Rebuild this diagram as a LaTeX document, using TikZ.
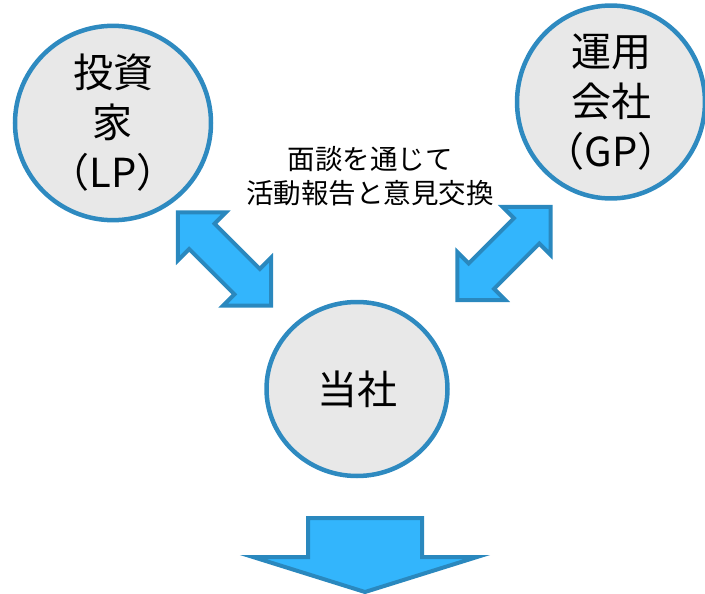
\documentclass[tikz,border=0pt]{standalone}
\usepackage{fontspec}
\setmainfont{Noto Sans CJK JP}
\usetikzlibrary{shapes.geometric}
\definecolor{circfill}{HTML}{E8E8E8}
\definecolor{circline}{HTML}{2E8AC0}
\definecolor{arrfill}{HTML}{33B5FC}
\definecolor{arrline}{HTML}{2A88BE}
\begin{document}
\begin{tikzpicture}[x=1pt,y=-1pt,
  party/.style={ellipse,draw=circline,fill=circfill,line width=4.5pt,inner sep=0pt,align=center,
    font=\fontsize{40}{50}\selectfont},
  blockarrow/.style={draw=arrline,fill=arrfill,line width=4pt,line join=miter},
  note/.style={align=center,inner sep=0pt,font=\fontsize{27.5}{34}\selectfont}]
\useasboundingbox (0,0) rectangle (705,594);
% parties
\node[party,minimum width=196pt,minimum height=176pt] (lp) at (113,123) {投資\\家\\（LP）};
\node[party,minimum width=186pt,minimum height=178pt] (gp) at (611,102) {運用\\会社\\（GP）};
\node[party,minimum width=181pt,minimum height=174pt] (us) at (357,389) {当社};
% label
\node[note] (talk) at (370,176) {面談を通じて\\活動報告と意見交換};
% left double arrow
\begin{scope}[shift={(224.5,259)}]
\draw[blockarrow] (-46.7,-46.7) -- (1.4,-46.6) -- (-9.9,-35.3) -- (35.3,9.9) -- (46.6,-1.4)
  -- (46.7,46.7) -- (-1.4,46.6) -- (9.9,35.3) -- (-35.3,-9.9) -- (-46.6,1.4) -- cycle;
\end{scope}
% right double arrow
\begin{scope}[shift={(504,253.5)}]
\draw[blockarrow] (46.7,-46.7) -- (-1.4,-46.6) -- (9.9,-35.3) -- (-35.3,9.9) -- (-46.6,-1.4)
  -- (-46.7,46.7) -- (1.4,46.6) -- (-9.9,35.3) -- (35.3,-9.9) -- (46.6,1.4) -- cycle;
\end{scope}
% down arrow
\draw[blockarrow] (308,518) -- (422,518) -- (422,557) -- (477,557) -- (365,592)
  -- (253,557) -- (308,557) -- cycle;
\end{tikzpicture}
\end{document}
